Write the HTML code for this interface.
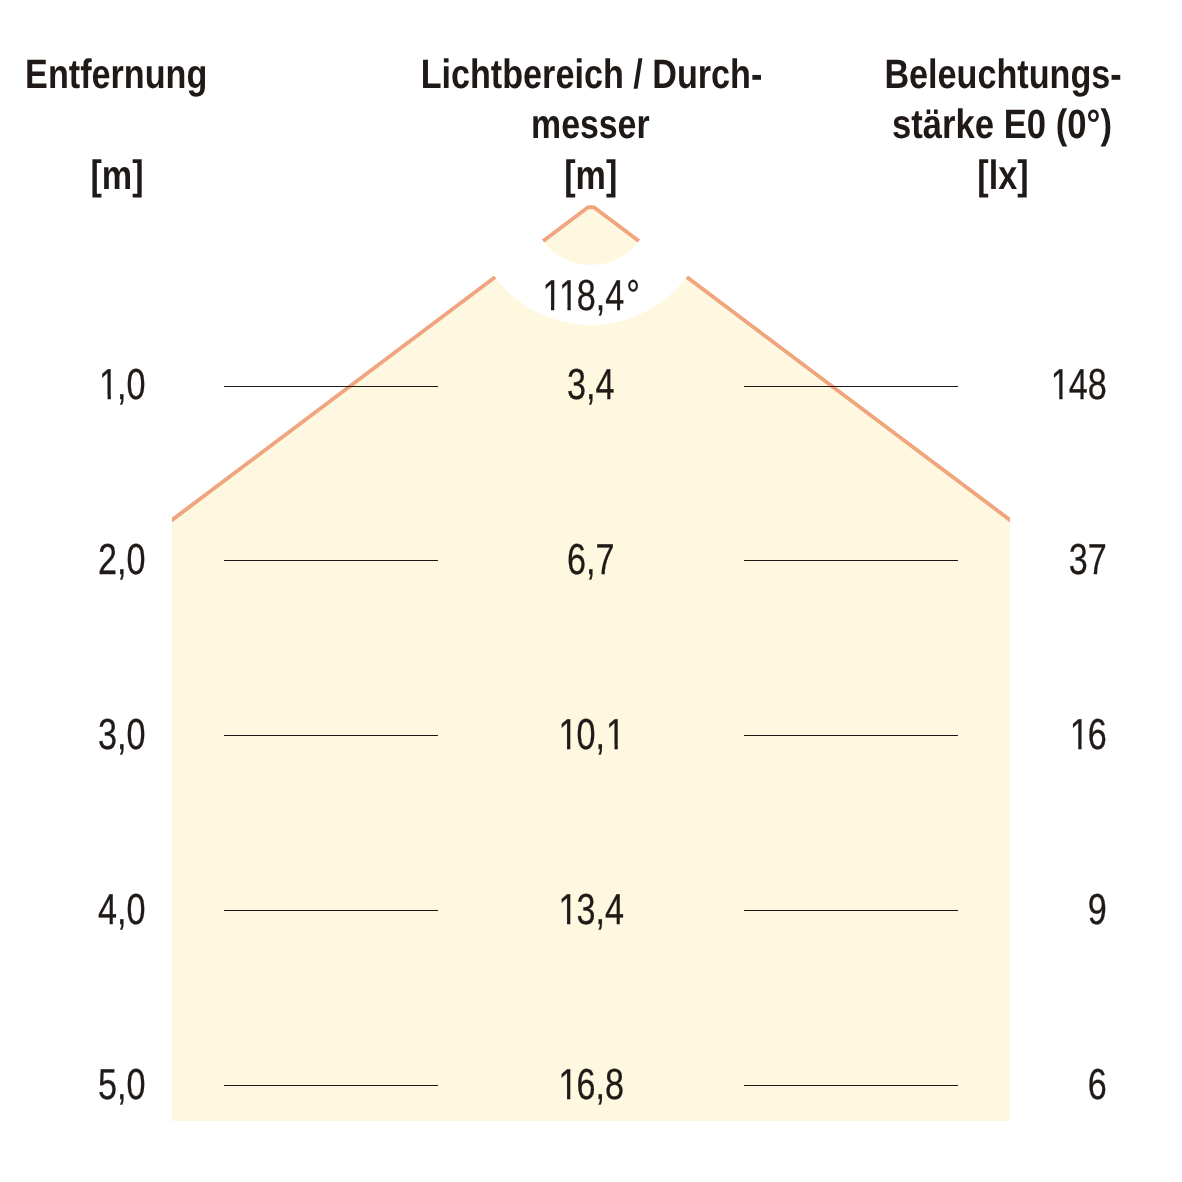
<!DOCTYPE html>
<html lang="de"><head><meta charset="utf-8"><title>Lichtkegel</title>
<style>html,body{margin:0;padding:0;background:#fff;}body{width:1182px;height:1182px;overflow:hidden;}svg{display:block;will-change:transform;}text{font-family:"Liberation Sans",sans-serif;font-kerning:none;text-rendering:geometricPrecision;fill:#1f1a17;}.n text{stroke:#1f1a17;stroke-width:0.3px;}</style></head><body>
<svg width="1182" height="1182" viewBox="0 0 1182 1182">
<defs><clipPath id="c"><rect x="172" y="0" width="838" height="1182"/></clipPath><clipPath id="k"><path d="M-2,-40H26V-4.34H14.89V2H10.75V-4.34H-2Z"/></clipPath></defs>
<rect width="1182" height="1182" fill="#fff"/>
<polygon points="588.1,207.2 593.9,207.2 1010,520 1010,1121 172,1121 172,520" fill="#FEF8E1"/>
<polyline clip-path="url(#c)" points="152,535.03 588.1,207.2 593.9,207.2 1030,535.03" fill="none" stroke="#F0A57F" stroke-width="3.9" stroke-linejoin="round"/>
<circle cx="591" cy="205.0" r="90.0" fill="none" stroke="#fff" stroke-width="60"/>
<rect x="224" y="386" width="214" height="1" fill="#1f1a17"/>
<rect x="744" y="386" width="214" height="1" fill="#1f1a17"/>
<rect x="224" y="560" width="214" height="1" fill="#1f1a17"/>
<rect x="744" y="560" width="214" height="1" fill="#1f1a17"/>
<rect x="224" y="735" width="214" height="1" fill="#1f1a17"/>
<rect x="744" y="735" width="214" height="1" fill="#1f1a17"/>
<rect x="224" y="910" width="214" height="1" fill="#1f1a17"/>
<rect x="744" y="910" width="214" height="1" fill="#1f1a17"/>
<rect x="224" y="1085" width="214" height="1" fill="#1f1a17"/>
<rect x="744" y="1085" width="214" height="1" fill="#1f1a17"/>
<text transform="translate(116.2,88) scale(0.8334,1)" text-anchor="middle" font-weight="bold" font-size="41.0">Entfernung</text>
<text transform="translate(117,189) scale(0.8334,1)" text-anchor="middle" font-weight="bold" font-size="41.0">[m]</text>
<text transform="translate(591.5,88) scale(0.8334,1)" text-anchor="middle" font-weight="bold" font-size="41.0">Lichtbereich / Durch-</text>
<text transform="translate(590.3,138) scale(0.8251,1)" text-anchor="middle" font-weight="bold" font-size="41.0">messer</text>
<text transform="translate(590.7,189) scale(0.8334,1)" text-anchor="middle" font-weight="bold" font-size="41.0">[m]</text>
<text transform="translate(1003.1,88) scale(0.8334,1)" text-anchor="middle" font-weight="bold" font-size="41.0">Beleuchtungs-</text>
<text transform="translate(1002,138) scale(0.8451,1)" text-anchor="middle" font-weight="bold" font-size="41.0">stärke E0 (0°)</text>
<text transform="translate(1003,189) scale(0.8334,1)" text-anchor="middle" font-weight="bold" font-size="41.0">[lx]</text>
<g class="n" transform="translate(541.38,310)"><text clip-path="url(#k)" transform="translate(1.12,0) scale(0.7881,1)" font-size="43.36">1</text><text clip-path="url(#k)" transform="translate(17.59,0) scale(0.7881,1)" font-size="43.36">1</text><text transform="translate(35.47,0) scale(0.7881,1)" font-size="43.36">8,4</text><text transform="translate(84.87,0) scale(0.7881,1)" font-size="43.36">°</text></g>
<g class="n" transform="translate(98.00,399)"><text clip-path="url(#k)" transform="translate(1.12,0) scale(0.7881,1)" font-size="43.36">1</text><text transform="translate(19.00,0) scale(0.7881,1)" font-size="43.36">,0</text></g>
<g class="n" transform="translate(566.95,399)"><text transform="translate(0.00,0) scale(0.7881,1)" font-size="43.36">3,4</text></g>
<g class="n" transform="translate(1049.69,399)"><text clip-path="url(#k)" transform="translate(1.12,0) scale(0.7881,1)" font-size="43.36">1</text><text transform="translate(19.00,0) scale(0.7881,1)" font-size="43.36">48</text></g>
<g class="n" transform="translate(98.00,574)"><text transform="translate(0.00,0) scale(0.7881,1)" font-size="43.36">2,0</text></g>
<g class="n" transform="translate(566.95,574)"><text transform="translate(0.00,0) scale(0.7881,1)" font-size="43.36">6,7</text></g>
<g class="n" transform="translate(1068.69,574)"><text transform="translate(0.00,0) scale(0.7881,1)" font-size="43.36">37</text></g>
<g class="n" transform="translate(98.00,749)"><text transform="translate(0.00,0) scale(0.7881,1)" font-size="43.36">3,0</text></g>
<g class="n" transform="translate(557.45,749)"><text clip-path="url(#k)" transform="translate(1.12,0) scale(0.7881,1)" font-size="43.36">1</text><text transform="translate(19.00,0) scale(0.7881,1)" font-size="43.36">0,</text><text clip-path="url(#k)" transform="translate(48.62,0) scale(0.7881,1)" font-size="43.36">1</text></g>
<g class="n" transform="translate(1068.69,749)"><text clip-path="url(#k)" transform="translate(1.12,0) scale(0.7881,1)" font-size="43.36">1</text><text transform="translate(19.00,0) scale(0.7881,1)" font-size="43.36">6</text></g>
<g class="n" transform="translate(98.00,924)"><text transform="translate(0.00,0) scale(0.7881,1)" font-size="43.36">4,0</text></g>
<g class="n" transform="translate(557.45,924)"><text clip-path="url(#k)" transform="translate(1.12,0) scale(0.7881,1)" font-size="43.36">1</text><text transform="translate(19.00,0) scale(0.7881,1)" font-size="43.36">3,4</text></g>
<g class="n" transform="translate(1087.70,924)"><text transform="translate(0.00,0) scale(0.7881,1)" font-size="43.36">9</text></g>
<g class="n" transform="translate(98.00,1099)"><text transform="translate(0.00,0) scale(0.7881,1)" font-size="43.36">5,0</text></g>
<g class="n" transform="translate(557.45,1099)"><text clip-path="url(#k)" transform="translate(1.12,0) scale(0.7881,1)" font-size="43.36">1</text><text transform="translate(19.00,0) scale(0.7881,1)" font-size="43.36">6,8</text></g>
<g class="n" transform="translate(1087.70,1099)"><text transform="translate(0.00,0) scale(0.7881,1)" font-size="43.36">6</text></g>
</svg></body></html>
